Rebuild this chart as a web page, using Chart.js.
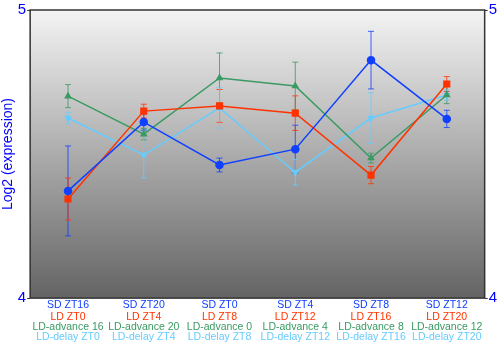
<!DOCTYPE html>
<html>
<head>
<meta charset="utf-8">
<script src="https://cdn.jsdelivr.net/npm/chart.js@4"></script>
<style>
  html, body { margin: 0; padding: 0; background: #fff; }
  #wrap { width: 500px; height: 350px; }
</style>
</head>
<body>
<div id="wrap"><canvas id="chart"></canvas></div>
<script>
var labelsSD = ['SD ZT16', 'SD ZT20', 'SD ZT0', 'SD ZT4', 'SD ZT8', 'SD ZT12'];
var labelsLD = ['LD ZT0', 'LD ZT4', 'LD ZT8', 'LD ZT12', 'LD ZT16', 'LD ZT20'];
var labelsAdv = ['LD-advance 16', 'LD-advance 20', 'LD-advance 0', 'LD-advance 4', 'LD-advance 8', 'LD-advance 12'];
var labelsDelay = ['LD-delay ZT0', 'LD-delay ZT4', 'LD-delay ZT8', 'LD-delay ZT12', 'LD-delay ZT16', 'LD-delay ZT20'];

var sdValues = [4.372, 4.611, 4.462, 4.517, 4.826, 4.622];
var sdErrors = [0.156, 0.028, 0.024, 0.083, 0.1, 0.03];
var ldValues = [4.344, 4.649, 4.667, 4.642, 4.427, 4.743];
var ldErrors = [0.073, 0.024, 0.057, 0.06, 0.03, 0.026];
var advValues = [4.701, 4.569, 4.764, 4.736, 4.486, 4.705];
var advErrors = [0.04, 0.02, 0.087, 0.083, 0.017, 0.03];
var delayValues = [4.625, 4.497, 4.66, 4.437, 4.625, 4.705];
var delayErrors = [0.02, 0.08, 0.07, 0.045, 0.088, 0.017];

var yTicks = [4, 5];

var cBlue = '#1040ff';
var cRed = '#ff3300';
var cGreen = '#3a9a62';
var cLight = '#66ccff';
var fontFam = '"Liberation Sans", Arial, sans-serif';

// gradient background + frame of the plot area
var bgPlugin = {
  id: 'bgPlugin',
  beforeDatasetsDraw: function(chart){
    var a = chart.chartArea, ctx = chart.ctx;
    var g = ctx.createLinearGradient(0, a.top, 0, a.bottom);
    g.addColorStop(0, '#f4f4f4');
    g.addColorStop(1, '#646464');
    ctx.save();
    ctx.fillStyle = g;
    ctx.fillRect(a.left, a.top, a.right - a.left, a.bottom - a.top);
    ctx.strokeStyle = '#333';
    ctx.lineWidth = 1.5;
    ctx.strokeRect(a.left, a.top, a.right - a.left, a.bottom - a.top);
    ctx.restore();
  }
};

var errPlugin = {
  id: 'errPlugin',
  beforeDatasetsDraw: function(chart){
    var ctx = chart.ctx, y = chart.scales.y;
    ctx.save();
    chart.data.datasets.forEach(function(ds, i){
      var meta = chart.getDatasetMeta(i);
      ctx.strokeStyle = ds.borderColor;
      ctx.globalAlpha = 0.8;
      ctx.lineWidth = 1;
      meta.data.forEach(function(pt, j){
        var e = ds.errors[j];
        var y1 = y.getPixelForValue(ds.data[j] + e);
        var y2 = y.getPixelForValue(ds.data[j] - e);
        ctx.beginPath();
        ctx.moveTo(pt.x, y1); ctx.lineTo(pt.x, y2);
        ctx.moveTo(pt.x - 3, y1); ctx.lineTo(pt.x + 3, y1);
        ctx.moveTo(pt.x - 3, y2); ctx.lineTo(pt.x + 3, y2);
        ctx.stroke();
      });
    });
    ctx.restore();
  }
};

function xAxis(labels, color, weight, pad){
  return {
    type: 'category',
    position: 'bottom',
    labels: labels,
    offset: true,
    weight: weight,
    grid: { display: false, drawTicks: false },
    border: { display: false },
    ticks: {
      color: color, autoSkip: false, maxRotation: 0, padding: pad,
      font: { family: fontFam, size: 10.5, lineHeight: 0.95 }
    }
  };
}

function yAxis(pos){
  return {
    type: 'linear',
    position: pos,
    min: 4,
    max: 5,
    afterBuildTicks: function(axis){
      axis.ticks = yTicks.map(function(v){ return { value: v }; });
    },
    grid: { display: true, drawOnChartArea: false, tickLength: 3, color: '#333' },
    border: { display: false },
    ticks: { color: '#0000ff', padding: 1, font: { family: fontFam, size: 15 } },
    title: pos === 'left' ? {
      display: true, text: 'Log2 (expression)', color: '#0000ff', padding: 0,
      font: { family: fontFam, size: 14 }
    } : { display: false }
  };
}

var ctx = document.getElementById('chart').getContext('2d');
new Chart(ctx, {
  type: 'line',
  data: {
    labels: labelsSD,
    datasets: [{
      label: 'SD', data: sdValues, errors: sdErrors,
      borderColor: cBlue, backgroundColor: cBlue, borderWidth: 1.5,
      pointStyle: 'circle', pointRadius: 3.5, tension: 0
    }, {
      label: 'LD', data: ldValues, errors: ldErrors,
      borderColor: cRed, backgroundColor: cRed, borderWidth: 1.5,
      pointStyle: 'rect', pointRadius: 4, tension: 0
    }, {
      label: 'LD-advance', data: advValues, errors: advErrors,
      borderColor: cGreen, backgroundColor: cGreen, borderWidth: 1.5,
      pointStyle: 'triangle', pointRadius: 3, tension: 0
    }, {
      label: 'LD-delay', data: delayValues, errors: delayErrors,
      borderColor: cLight, backgroundColor: cLight, borderWidth: 1.5,
      pointStyle: 'triangle', pointRotation: 180, pointRadius: 3, tension: 0
    }]
  },
  options: {
    responsive: true,
    maintainAspectRatio: false,
    animation: false,
    layout: { padding: { top: 10, right: 2, bottom: 8, left: 0 } },
    plugins: { legend: { display: false }, tooltip: { enabled: false } },
    scales: {
      x: xAxis(labelsSD, cBlue, 1, 2),
      x2: xAxis(labelsLD, cRed, 2, 0),
      x3: xAxis(labelsAdv, cGreen, 3, 0),
      x4: xAxis(labelsDelay, cLight, 4, 0),
      y: yAxis('left'),
      y2: yAxis('right')
    }
  },
  plugins: [bgPlugin, errPlugin]
});
</script>
</body>
</html>
